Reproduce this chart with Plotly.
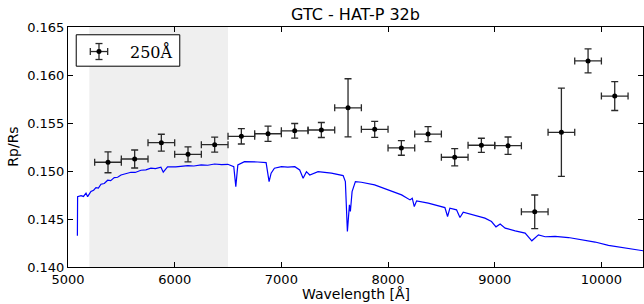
import plotly.graph_objects as go

# Binned transmission spectrum (250 A bins)
bin_center = [5375, 5625, 5875, 6125, 6375, 6625, 6875, 7125, 7375, 7625,
              7875, 8125, 8375, 8625, 8875, 9125, 9375, 9625, 9875, 10125]
rp_rs = [0.15091, 0.15125, 0.15295, 0.15174, 0.15274, 0.15361, 0.15388, 0.15419,
         0.15427, 0.15658, 0.15434, 0.15240, 0.15385, 0.15143, 0.15268, 0.15264,
         0.14575, 0.15403, 0.16147, 0.15780]
rp_err = [0.00109, 0.00094, 0.00088, 0.00078, 0.00078, 0.00080, 0.00080, 0.00076,
          0.00078, 0.00303, 0.00083, 0.00076, 0.00078, 0.00090, 0.00073, 0.00090,
          0.00175, 0.00460, 0.00125, 0.00150]
bin_half = [125] * len(bin_center)

# Scaled stellar spectrum (blue curve)
spec_wl = [5088, 5090, 5122, 5145, 5169, 5184, 5215, 5240, 5262, 5285, 5309, 5340, 5372,
           5400, 5434, 5465, 5497, 5540, 5590, 5630, 5684, 5730, 5777, 5820, 5871, 5893,
           5933, 6010, 6060, 6124, 6180, 6249, 6310, 6374, 6440, 6498, 6554, 6573,
           6592, 6654, 6779, 6857, 6885, 6904, 6935, 7001, 7060, 7126, 7172, 7204, 7235,
           7266, 7344, 7410, 7469, 7579, 7600, 7619, 7638, 7647, 7663, 7694, 7750, 7874,
           7937, 8003, 8127, 8206, 8227, 8246, 8268, 8377, 8471, 8533, 8558, 8580,
           8642, 8674, 8705, 8814, 8908, 8970, 9012, 9051, 9098, 9192, 9285, 9348,
           9410, 9473, 9566, 9691, 9816, 9941, 10066, 10191, 10316, 10391]
spec_val = [0.14325, 0.14733, 0.14744, 0.14735, 0.14769, 0.14733, 0.14786, 0.14800,
            0.14827, 0.14822, 0.14862, 0.14870, 0.14904, 0.14900, 0.14931, 0.14935,
            0.14959, 0.14970, 0.14987, 0.14985, 0.15008, 0.15012, 0.15029, 0.15025,
            0.15039, 0.14987, 0.15042, 0.15042, 0.15050, 0.15056, 0.15052, 0.15063,
            0.15060, 0.15073, 0.15066, 0.15070, 0.15045, 0.14837, 0.15063, 0.15097,
            0.15094, 0.15087, 0.14889, 0.14977, 0.15029, 0.15045, 0.15040, 0.15045,
            0.15011, 0.14925, 0.14993, 0.14959, 0.14993, 0.14985, 0.14977, 0.14952,
            0.14889, 0.14370, 0.14647, 0.14578, 0.14785, 0.14889, 0.14883, 0.14855,
            0.14831, 0.14803, 0.14751, 0.14699, 0.14717, 0.14630, 0.14689, 0.14665,
            0.14640, 0.14619, 0.14526, 0.14613, 0.14595, 0.14515, 0.14571, 0.14536,
            0.14509, 0.14474, 0.14418, 0.14447, 0.14405, 0.14377, 0.14353, 0.14273,
            0.14335, 0.14315, 0.14318, 0.14307, 0.14280, 0.14260, 0.14225, 0.14204,
            0.14180, 0.14169]

shade_range = [5200, 6500]
x_ticks = [5000, 6000, 7000, 8000, 9000, 10000]
x_tick_text = ["5000", "6000", "7000", "8000", "9000", "10000"]
y_ticks = [0.140, 0.145, 0.150, 0.155, 0.160, 0.165]
legend_label = "250Å"

fig = go.Figure()

fig.add_trace(go.Scatter(
    x=spec_wl, y=spec_val, mode="lines",
    line=dict(color="#0000ff", width=1.2), showlegend=False, hoverinfo="skip"))

fig.add_trace(go.Scatter(
    x=bin_center, y=rp_rs, mode="markers",
    marker=dict(color="black", size=5),
    error_y=dict(type="data", array=rp_err, color="#2a2a2a", thickness=1.3, width=3.5),
    error_x=dict(type="data", array=bin_half, color="#2a2a2a", thickness=1.3, width=3.5),
    showlegend=False))

# shaded region
fig.add_shape(type="rect", xref="x", yref="paper", x0=shade_range[0], x1=shade_range[1],
              y0=0, y1=1, fillcolor="#efefef", line=dict(width=0), layer="below")

# manual legend (paper coords)
L = dict(xref="paper", yref="paper")
fig.add_shape(type="rect", x0=0.0143, x1=0.1944, y0=0.8367, y1=0.9676,
              line=dict(color="black", width=1), fillcolor="white", **L)
cx, cy = 0.0539, 0.8978
hx, hy = 0.0151, 0.0333
capx, capy = 0.0061, 0.0146
lc = dict(color="#2a2a2a", width=1.3)
fig.add_shape(type="line", x0=cx - hx, x1=cx + hx, y0=cy, y1=cy, line=lc, **L)
fig.add_shape(type="line", x0=cx, x1=cx, y0=cy - hy, y1=cy + hy, line=lc, **L)
fig.add_shape(type="line", x0=cx - hx, x1=cx - hx, y0=cy - capy, y1=cy + capy, line=lc, **L)
fig.add_shape(type="line", x0=cx + hx, x1=cx + hx, y0=cy - capy, y1=cy + capy, line=lc, **L)
fig.add_shape(type="line", x0=cx - capx, x1=cx + capx, y0=cy - hy, y1=cy - hy, line=lc, **L)
fig.add_shape(type="line", x0=cx - capx, x1=cx + capx, y0=cy + hy, y1=cy + hy, line=lc, **L)
fig.add_shape(type="circle", x0=cx - 0.0044, x1=cx + 0.0044, y0=cy - 0.0104, y1=cy + 0.0104,
              fillcolor="black", line=dict(width=0), **L)
fig.add_annotation(text=legend_label, x=0.1040, y=cy, xanchor="left", yanchor="middle",
                   showarrow=False, font=dict(family="DejaVu Serif", size=16, color="black"), **L)

# axis titles as annotations
fig.add_annotation(text="Wavelength [Å]", x=0.5, y=-0.111, xanchor="center", yanchor="middle",
                   showarrow=False, font=dict(family="DejaVu Sans", size=14, color="black"), **L)
fig.add_annotation(text="Rp/Rs", x=-0.0962, y=0.5, xanchor="center", yanchor="middle",
                   textangle=-90, showarrow=False,
                   font=dict(family="DejaVu Sans", size=14, color="black"), **L)

axis_common = dict(showline=True, linecolor="black", linewidth=1, mirror="ticks",
                   ticks="inside", ticklen=5, tickwidth=1, tickcolor="black",
                   showgrid=False, zeroline=False, automargin=False,
                   tickfont=dict(family="DejaVu Sans", size=13, color="black"))

fig.update_layout(
    width=644, height=304,
    margin=dict(l=68, r=1, t=27, b=37),
    paper_bgcolor="white", plot_bgcolor="white",
    title=dict(text="GTC - HAT-P 32b", x=0.5, xref="paper", y=1 - 14 / 304,
               yanchor="middle", font=dict(family="DejaVu Sans", size=16, color="black")),
    xaxis=dict(range=[5000, 10390], tickvals=x_ticks, ticktext=x_tick_text, **axis_common),
    yaxis=dict(range=[0.140, 0.165], tickvals=y_ticks, tickformat=".3f", **axis_common),
)

fig.write_html("out.html", config={"displayModeBar": False},
               post_script="document.body.style.margin='0px';document.body.style.overflow='hidden';")
